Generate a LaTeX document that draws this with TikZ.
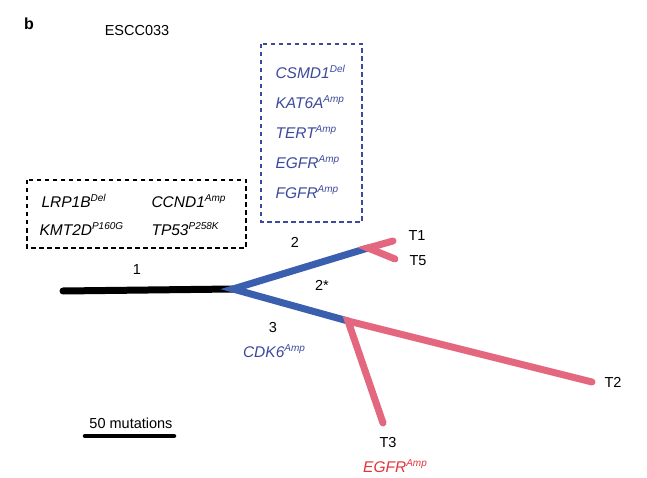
\documentclass[tikz,border=0pt]{standalone}
\usepackage{fontspec}
\setmainfont{Liberation Sans}
\definecolor{brblue}{HTML}{3A5FAE}
\definecolor{brpink}{HTML}{E3677E}
\definecolor{genblue}{HTML}{3B4A9C}
\definecolor{genred}{HTML}{E2333B}
\newcommand{\genemut}[2]{#1\raisebox{0.65ex}{\fontsize{10}{11}\selectfont #2}}

\begin{document}
\begin{tikzpicture}[x=1pt, y=-1pt,
    branch/.style={line width=7pt, line cap=round},
    lab/.style={font=\fontsize{14.5}{16}\selectfont},
    gene/.style={font=\fontsize{15.5}{17}\selectfont\itshape, anchor=west},
    dashbox/.style={line width=1.4pt, dash pattern=on 4.5pt off 3.5pt}]
\useasboundingbox (0,0) rectangle (647,478);

\node[font=\fontsize{16}{18}\selectfont\bfseries] (panel) at (29,24) {b};
\node[lab] (sample) at (137,31) {ESCC033};

% dashed mutation boxes
\draw[dashbox] (27,180) rectangle (246,248);
\draw[dashbox, genblue] (261,44) rectangle (362,222);
\foreach \y/\g/\m in {72/CSMD1/Del, 102/KAT6A/Amp, 132/TERT/Amp, 162/EGFR/Amp, 192/FGFR/Amp}
    \node[gene, genblue] (g\g) at (272,\y) {\genemut{\g}{\m}};
\node[gene] (gLRP1B) at (38,201) {\genemut{LRP1B}{Del}};
\node[gene] (gCCND1) at (148,201) {\genemut{CCND1}{Amp}};
\node[gene] (gKMT2D) at (36,229) {\genemut{KMT2D}{P160G}};
\node[gene] (gTP53) at (148,229) {\genemut{TP53}{P258K}};

% tree
\coordinate (root) at (63,291);
\coordinate (split) at (233,289);
\coordinate (n15) at (368,248);
\coordinate (n23) at (348,321);
\coordinate (t1) at (393,241);
\coordinate (t5) at (395,259);
\coordinate (t2) at (592,382);
\coordinate (t3) at (383,423);

\draw[branch] (root) -- (split);
\draw[branch, brblue] (n15) -- (split) -- (n23);
\draw[branch, brpink] (t1) -- (n15) -- (t5);
\draw[branch, brpink] (t2) -- (n23) -- (t3);

\node[lab] (l1) at (137,270) {1};
\node[lab] (l2) at (295,242) {2};
\node[lab] (l2s) at (322,285) {2*};
\node[lab] (l3) at (273,328) {3};
\node[gene, genblue, anchor=center] (gCDK6) at (274,351) {\genemut{CDK6}{Amp}};

\node[lab] (T1) at (417,236) {T1};
\node[lab] (T5) at (418,261) {T5};
\node[lab] (T2) at (613,382) {T2};
\node[lab] (T3) at (388,443) {T3};
\node[gene, genred, anchor=center] (gEGFRt3) at (395,466) {\genemut{EGFR}{Amp}};

% scale bar
\coordinate (sbl) at (85,436);
\coordinate (sbr) at (174,436);
\draw[line width=4.5pt, line cap=round] (sbl) -- (sbr);
\node[lab] (sblab) at (131,423) {50 mutations};
\end{tikzpicture}
\end{document}
